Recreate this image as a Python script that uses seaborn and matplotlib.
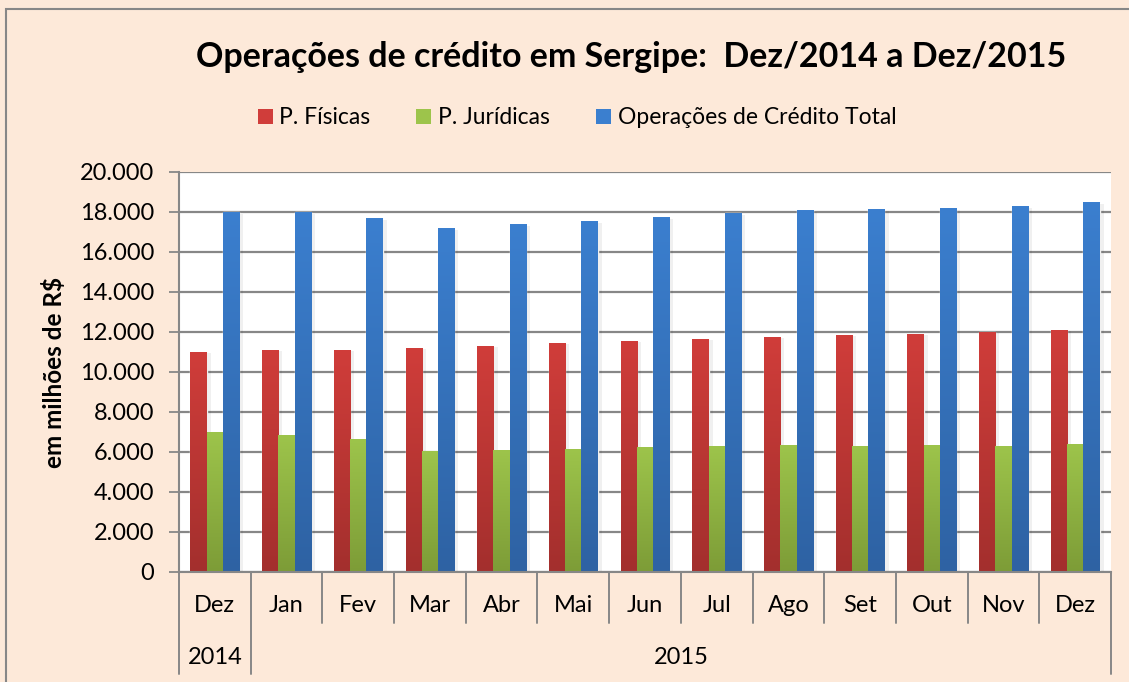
import numpy as np
import pandas as pd
import matplotlib
matplotlib.use("Agg")
import matplotlib.pyplot as plt
import seaborn as sns
from matplotlib.colors import LinearSegmentedColormap
from matplotlib.patches import Patch, Rectangle

# data (milhões de R$)
meses = ["Dez", "Jan", "Fev", "Mar", "Abr", "Mai", "Jun", "Jul", "Ago", "Set", "Out", "Nov", "Dez"]
chaves = ["Dez/14", "Jan", "Fev", "Mar", "Abr", "Mai", "Jun", "Jul", "Ago", "Set", "Out", "Nov", "Dez/15"]
fisicas = [11000, 11100, 11100, 11200, 11300, 11450, 11550, 11650, 11750, 11850, 11900, 12000, 12100]
juridicas = [7000, 6850, 6650, 6050, 6100, 6150, 6250, 6300, 6350, 6300, 6350, 6300, 6400]
total = [17990, 18000, 17700, 17200, 17400, 17550, 17750, 17950, 18100, 18150, 18200, 18300, 18500]
series = ["P. Físicas", "P. Jurídicas", "Operações de Crédito Total"]
anos = ["2014", "2015"]

cores_topo = ["#D03D3A", "#9DC44B", "#3B7FCF"]
cores_base = ["#A32F2D", "#7D9C37", "#2E62A3"]
bg = "#FDE9D9"
cinza = "#878787"

df = pd.DataFrame({
    "mes": chaves * 3,
    "valor": fisicas + juridicas + total,
    "serie": [series[0]] * 13 + [series[1]] * 13 + [series[2]] * 13,
})

sns.set_theme(style="white")
plt.rcParams["font.family"] = ["Lato", "DejaVu Sans"]
plt.rcParams.update({"text.color": "black", "axes.labelcolor": "black",
                     "xtick.color": "black", "ytick.color": "black"})
fs = 17

fig = plt.figure(figsize=(11.29, 6.82), dpi=100, facecolor=bg)
W, H = 1129, 682
ax = fig.add_axes([179 / W, (H - 572) / H, 932 / W, 400 / H])
ax.set_facecolor("white")

sns.barplot(data=df, x="mes", y="valor", hue="serie", order=chaves, hue_order=series,
            palette=cores_topo, width=0.68, gap=0, saturation=1, legend=False, ax=ax)

# vertical gradient on every bar (darker at the base)
for i, serie in enumerate(series):
    cmap = LinearSegmentedColormap.from_list(serie, [cores_base[i], cores_topo[i]])
    for bar in ax.containers[i]:
        x, w, h = bar.get_x(), bar.get_width(), bar.get_height()
        # soft shadow on the right
        ax.add_patch(Rectangle((x + w, 0), w * 0.25, h * 0.995, facecolor="#000000",
                               alpha=0.06, lw=0, zorder=1.5))
        grad = np.linspace(1, 0, 256).reshape(-1, 1)
        ax.imshow(grad, cmap=cmap, extent=[x, x + w, 0, h], aspect="auto", zorder=2.5)

ax.set_xlim(-0.5, 12.5)
ax.set_ylim(0, 20000)
ax.set_yticks(np.arange(0, 20001, 2000))
ax.set_yticklabels([f"{v:,.0f}".replace(",", ".") for v in range(0, 20001, 2000)], fontsize=fs)
ax.yaxis.grid(True, color=cinza, lw=1.6)
ax.set_axisbelow(True)
ax.tick_params(axis="y", which="major", left=True, length=7, width=1.3, color=cinza,
               labelcolor="black", pad=11)
ax.tick_params(axis="x", bottom=False, labelbottom=False)
for s in ["top", "right"]:
    ax.spines[s].set_visible(False)
for s in ["left", "bottom"]:
    ax.spines[s].set_color(cinza)
    ax.spines[s].set_linewidth(1.5)
ax.set_xlabel("")
ax.set_ylabel("em milhões de R$", fontsize=17.5, fontweight="bold", labelpad=10)

# two level category axis
tr = ax.get_xaxis_transform()
for b in np.arange(-0.5, 13, 1):
    fundo = -0.255 if b in (-0.5, 0.5, 12.5) else -0.127
    ax.plot([b, b], [0, fundo], transform=tr, color=cinza, lw=1.4, clip_on=False)
for i, m in enumerate(meses):
    ax.text(i, -0.0825, m, transform=tr, ha="center", va="center", fontsize=fs)
ax.text(0, -0.2125, anos[0], transform=tr, ha="center", va="center", fontsize=fs)
ax.text(6.5, -0.2125, anos[1], transform=tr, ha="center", va="center", fontsize=fs)

fig.text(631 / W, 1 - 57 / H, "Operações de crédito em Sergipe:  Dez/2014 a Dez/2015",
         ha="center", va="center", fontsize=24.5, fontweight="bold")

handles = [Patch(facecolor=c, edgecolor="none") for c in cores_topo]
fig.legend(handles, series, loc="center", bbox_to_anchor=(577 / W, 1 - 118 / H), ncol=3,
           frameon=False, fontsize=16.5, handlelength=0.65, handleheight=0.65,
           handletextpad=0.3, columnspacing=2.0)

# outer chart border
fig.add_artist(Rectangle((6 / W, -0.01), 1.2, 1 - 9 / H + 0.01, transform=fig.transFigure,
                         fill=False, edgecolor=cinza, lw=1.5))

fig.savefig("out.png", dpi=100, facecolor=bg)
